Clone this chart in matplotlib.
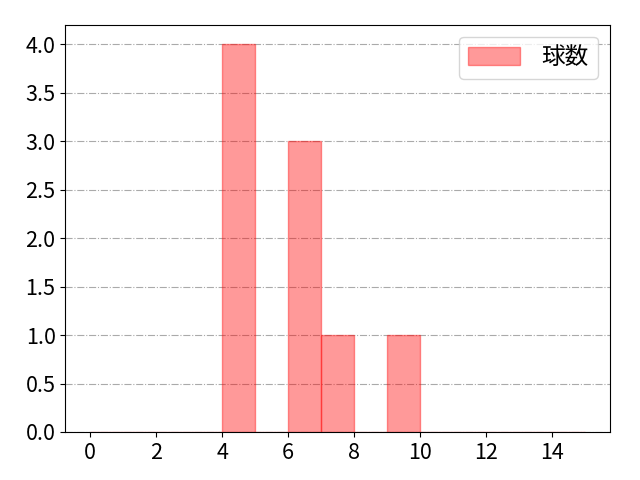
import matplotlib
matplotlib.use("Agg")
import matplotlib.pyplot as plt

plt.rcParams['font.family'] = ['Noto Sans CJK JP', 'DejaVu Sans']

# 球数データ
pitches = [4, 4, 4, 4, 6, 6, 6, 7, 9]
bins = list(range(0, 16))
label = '球数'

fig, ax = plt.subplots(figsize=(6.4, 4.8), dpi=100)
ax.hist(pitches, bins=bins, color='red', alpha=0.4, edgecolor='red', linewidth=1, label=label)
ax.set_xticks(range(0, 15, 2))
ax.grid(True, axis='y', linestyle='-.', color='#aaaaaa')
ax.set_axisbelow(True)
ax.tick_params(labelsize=15.5)
ax.legend(fontsize=17, handlelength=2.2, handleheight=0.8, handletextpad=0.9)
fig.subplots_adjust(left=0.102, right=0.953, top=0.948, bottom=0.1)
fig.savefig('out.png')
